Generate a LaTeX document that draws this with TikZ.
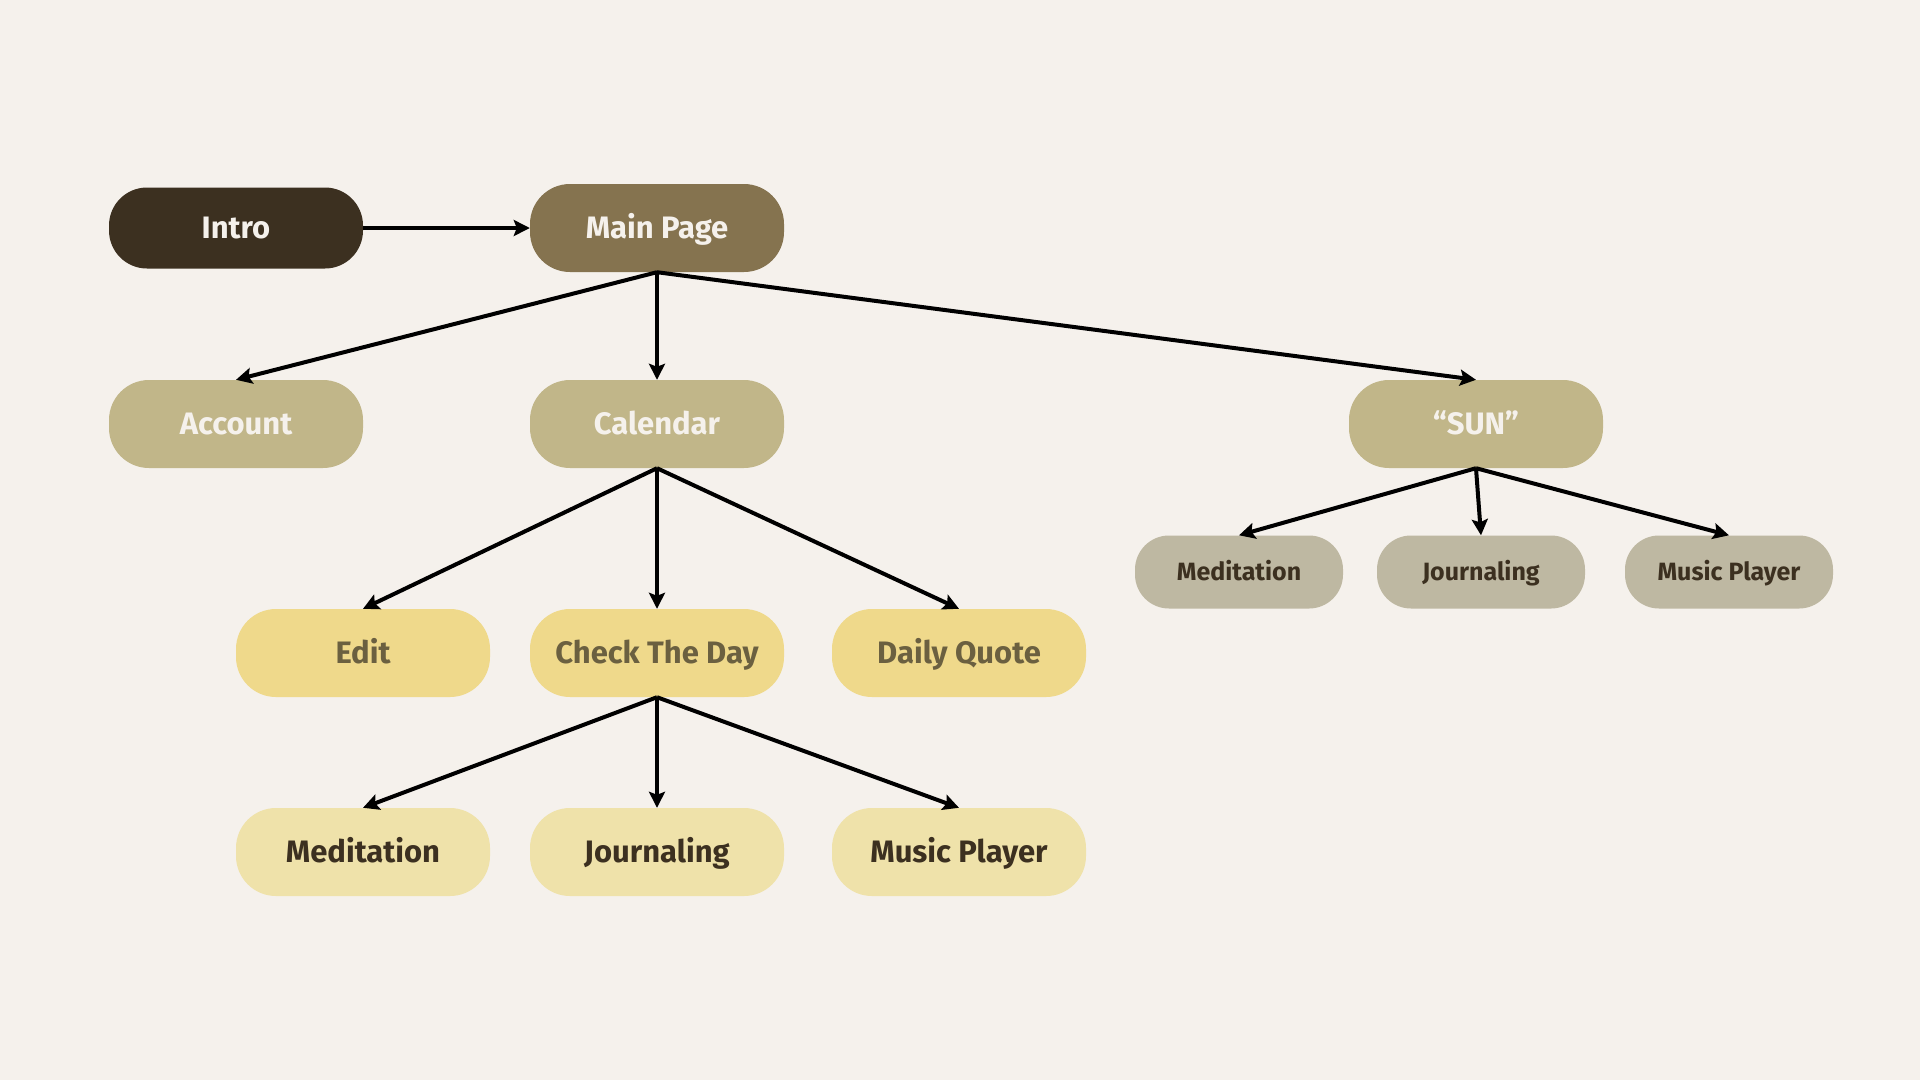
\documentclass[tikz,border=0pt]{standalone}
\usepackage{fontspec}
\setmainfont{Fira Sans}
\usetikzlibrary{arrows.meta}
\definecolor{bg}{HTML}{F5F1EC}
\definecolor{introc}{HTML}{3C3020}
\definecolor{mainc}{HTML}{85734F}
\definecolor{secc}{HTML}{C1B689}
\definecolor{sunc}{HTML}{BEB8A2}
\definecolor{yelc}{HTML}{EFD98B}
\definecolor{yeltext}{HTML}{6B6040}
\definecolor{palec}{HTML}{EFE2AA}
\definecolor{darktext}{HTML}{3C3020}
\definecolor{lighttext}{HTML}{F5F1EC}
\tikzset{
  pill/.style={rounded corners=40pt, minimum width=254pt, minimum height=88pt, inner sep=0pt, text height=21.5pt, text depth=0pt, font=\fontsize{31}{35}\selectfont\bfseries},
  introbox/.style={pill, fill=introc, text=lighttext, minimum height=81pt, rounded corners=38pt},
  mainbox/.style={pill, fill=mainc, text=lighttext},
  secbox/.style={pill, fill=secc, text=lighttext},
  yelbox/.style={pill, fill=yelc, text=yeltext},
  palebox/.style={pill, fill=palec, text=darktext},
  sunchild/.style={pill, fill=sunc, text=darktext, minimum width=208pt, minimum height=73pt, rounded corners=34pt, text height=17.3pt, font=\fontsize{25}{29}\selectfont\bfseries},
  conn/.style={line width=4pt, -{Stealth[length=16pt,width=16pt,inset=3pt]}}
}
\begin{document}
\begin{tikzpicture}[x=1pt,y=-1pt]
\fill[bg] (0,0) rectangle (1920,1080);
\useasboundingbox (0,0) rectangle (1920,1080);
\node[introbox] (intro) at (236,228) {Intro};
\node[mainbox] (main) at (657,228) {Main Page};
\node[secbox] (account) at (236,424) {Account};
\node[secbox] (calendar) at (657,424) {Calendar};
\node[secbox] (sun) at (1476,424) {“SUN”};
\node[sunchild] (smed) at (1239,572) {Meditation};
\node[sunchild] (sjou) at (1481,572) {Journaling};
\node[sunchild] (smus) at (1729,572) {Music Player};
\node[yelbox] (edit) at (363,653) {Edit};
\node[yelbox] (check) at (657,653) {Check The Day};
\node[yelbox] (quote) at (959,653) {Daily Quote};
\node[palebox] (med) at (363,852) {Meditation};
\node[palebox] (jou) at (657,852) {Journaling};
\node[palebox] (mus) at (959,852) {Music Player};
\draw[conn] (intro.east) -- (main.west);
\draw[conn] (main.south) -- (account.north);
\draw[conn] (main.south) -- (calendar.north);
\draw[conn] (main.south) -- (sun.north);
\draw[conn] (calendar.south) -- (edit.north);
\draw[conn] (calendar.south) -- (check.north);
\draw[conn] (calendar.south) -- (quote.north);
\draw[conn] (check.south) -- (med.north);
\draw[conn] (check.south) -- (jou.north);
\draw[conn] (check.south) -- (mus.north);
\draw[conn] (sun.south) -- (smed.north);
\draw[conn] (sun.south) -- (sjou.north);
\draw[conn] (sun.south) -- (smus.north);
\end{tikzpicture}
\end{document}
